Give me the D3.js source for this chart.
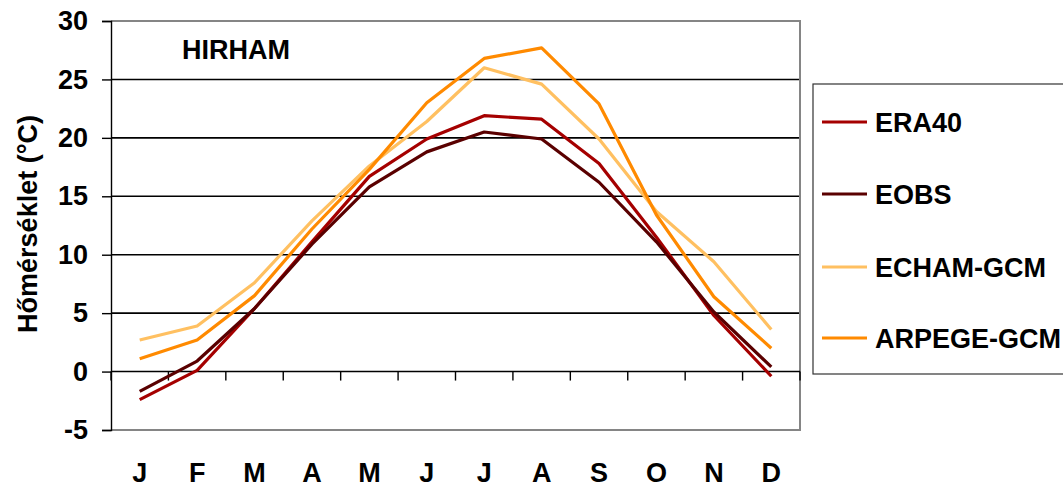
<!DOCTYPE html>
<html>
<head>
<meta charset="utf-8">
<script src="https://cdn.jsdelivr.net/npm/d3@7"></script>
<style>
  html, body { margin: 0; padding: 0; background: #fff; }
  svg { display: block; font-family: "Liberation Sans", Arial, sans-serif; font-weight: bold; }
</style>
</head>
<body>
<svg id="chart" width="1063" height="489"></svg>
<script>
// Monthly mean temperature (°C), HIRHAM domain
const months = ["J", "F", "M", "A", "M", "J", "J", "A", "S", "O", "N", "D"];
const era40  = [-2.4, 0.1, 5.4, 11.1, 16.7, 19.9, 21.9, 21.6, 17.8, 11.5, 4.8, -0.4];
const eobs   = [-1.7, 0.9, 5.4, 10.9, 15.8, 18.8, 20.5, 19.9, 16.2, 11.1, 5.1, 0.4];
const echam  = [2.7, 3.9, 7.6, 12.9, 17.6, 21.4, 26.0, 24.6, 19.9, 13.7, 9.4, 3.6];
const arpege = [1.1, 2.7, 6.5, 12.2, 17.3, 23.0, 26.8, 27.7, 22.9, 13.4, 6.4, 2.0];
const yTicks = [-5, 0, 5, 10, 15, 20, 25, 30];

const seriesNames  = ["ERA40", "EOBS", "ECHAM-GCM", "ARPEGE-GCM"];
const seriesValues = [era40, eobs, echam, arpege];
const seriesColors = ["#a50000", "#5a0000", "#ffc061", "#ff8a00"];

const FONT = 27;
const svg = d3.select("#chart");
const plot = { left: 111, right: 800, top: 21, bottom: 430 };

const x = d3.scaleBand().domain(d3.range(months.length)).range([plot.left, plot.right]);
const y = d3.scaleLinear().domain([-5, 30]).range([plot.bottom, plot.top]);
const cx = i => x(i) + x.bandwidth() / 2;

// horizontal gridlines
svg.append("g").selectAll("line")
  .data(yTicks.filter(v => v > -5 && v < 30 && v !== 0))
  .join("line")
  .attr("x1", plot.left).attr("x2", plot.right)
  .attr("y1", d => y(d)).attr("y2", d => y(d))
  .attr("stroke", "#000").attr("stroke-width", 1.6);

// plot frame (top, right, bottom)
svg.append("path")
  .attr("d", `M${plot.left},${plot.top}H${plot.right}V${plot.bottom}H${plot.left}`)
  .attr("fill", "none").attr("stroke", "#858585").attr("stroke-width", 2);

// y axis
const yAxis = d3.axisLeft(y).tickValues(yTicks).tickSize(9).tickPadding(14).tickFormat(d => String(d));
svg.append("g")
  .attr("transform", `translate(${plot.left},0)`)
  .call(yAxis)
  .call(g => g.select(".domain").attr("stroke", "#000").attr("stroke-width", 1.4))
  .call(g => g.selectAll(".tick line").attr("stroke", "#000").attr("stroke-width", 1.4))
  .call(g => g.selectAll(".tick text")
    .attr("font-family", "Liberation Sans, Arial, sans-serif")
    .attr("font-weight", "bold").attr("font-size", FONT).attr("fill", "#000"));

// x axis along zero, with tick marks between months
const y0 = y(0);
svg.append("line")
  .attr("x1", plot.left).attr("x2", plot.right)
  .attr("y1", y0).attr("y2", y0)
  .attr("stroke", "#000").attr("stroke-width", 1.6);
svg.append("g").selectAll("line")
  .data(d3.range(months.length + 1))
  .join("line")
  .attr("x1", i => i < months.length ? x(i) : plot.right)
  .attr("x2", i => i < months.length ? x(i) : plot.right)
  .attr("y1", y0).attr("y2", y0 + 9)
  .attr("stroke", "#000").attr("stroke-width", 1.4);

// month labels below the plot
svg.append("g").selectAll("text")
  .data(months)
  .join("text")
  .attr("x", (d, i) => cx(i))
  .attr("y", 482)
  .attr("text-anchor", "middle")
  .attr("font-size", FONT)
  .text(d => d);

// series lines
const line = d3.line().x((d, i) => cx(i)).y(d => y(d));
svg.append("g").selectAll("path")
  .data(seriesValues)
  .join("path")
  .attr("d", line)
  .attr("fill", "none")
  .attr("stroke", (d, i) => seriesColors[i])
  .attr("stroke-width", 3.2)
  .attr("stroke-linejoin", "round");

// y-axis title
svg.append("text")
  .attr("transform", "translate(37,224) rotate(-90)")
  .attr("text-anchor", "middle")
  .attr("font-size", FONT)
  .text("Hőmérséklet (°C)");

// panel title
svg.append("text")
  .attr("x", 182).attr("y", 59)
  .attr("font-size", FONT)
  .text("HIRHAM");

// legend
const legend = svg.append("g");
legend.append("rect")
  .attr("x", 813).attr("y", 84)
  .attr("width", 300).attr("height", 290)
  .attr("fill", "#fff").attr("stroke", "#333").attr("stroke-width", 1.2);
const legendY = [122, 194, 267, 338];
const items = legend.selectAll("g.item")
  .data(seriesNames)
  .join("g").attr("class", "item")
  .attr("transform", (d, i) => `translate(0,${legendY[i]})`);
items.append("line")
  .attr("x1", 822).attr("x2", 867)
  .attr("stroke", (d, i) => seriesColors[i]).attr("stroke-width", 3.2);
items.append("text")
  .attr("x", 875).attr("y", 10)
  .attr("font-size", FONT)
  .text(d => d);
</script>
</body>
</html>
